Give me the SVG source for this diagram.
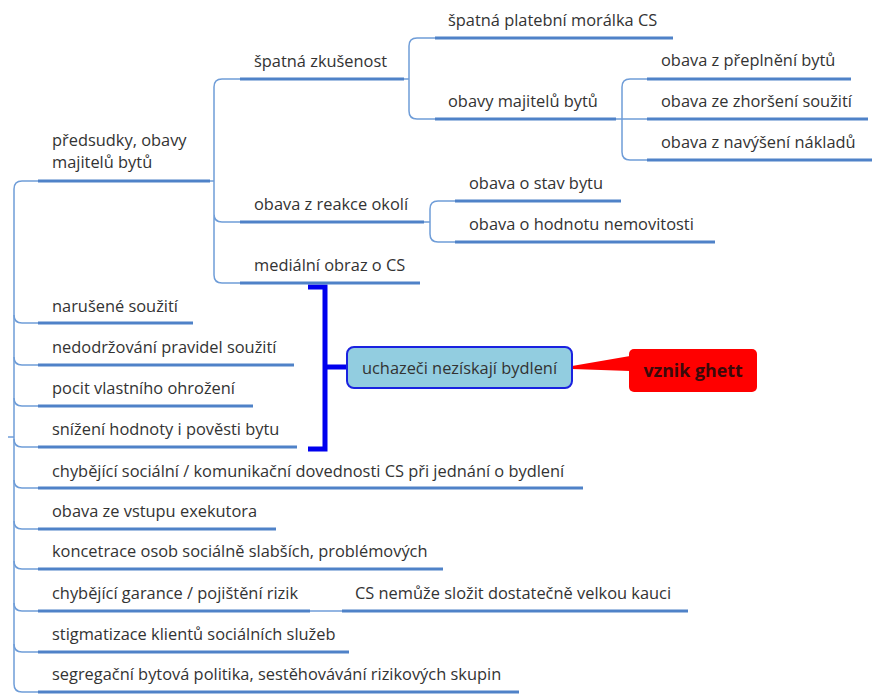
<svg xmlns="http://www.w3.org/2000/svg" width="877" height="700" viewBox="0 0 877 700">
<style>
text{font-family:"Open Sans","Noto Sans","DejaVu Sans",sans-serif;font-size:16.4px;fill:#333}
.u{stroke:#4f82c8;stroke-width:3;fill:none}
.c{stroke:#6f9dd8;stroke-width:1.5;fill:none}
.br{stroke:#0000ee;stroke-width:5;fill:none}
</style>
<rect width="877" height="700" fill="#fff"/>
<g id="connectors">
<path class="c" d="M22,181 Q14,181 14,189 L14,684 Q14,692 22,692 L38,692"/>
<path class="c" d="M8,437 L14,437"/>
<path class="c" d="M14,315 Q14,323 22,323 L38,323 M14,357 Q14,365 22,365 L38,365 M14,398 Q14,406 22,406 L38,406 M14,439 Q14,447 22,447 L38,447 M14,480 Q14,488 22,488 L38,488 M14,521 Q14,529 22,529 L38,529 M14,561 Q14,569 22,569 L38,569 M14,603 Q14,611 22,611 L38,611 M14,644 Q14,652 22,652 L38,652 M22,181 L38,181"/>
<path class="c" d="M210,181 L214,181 M240,79 L222,79 Q214,79 214,87 L214,275 Q214,283 222,283 L240,283 M214,214 Q214,222 222,222 L240,222"/>
<path class="c" d="M404,79 L409,79 M435,38 L417,38 Q409,38 409,46 L409,111 Q409,119 417,119 L435,119"/>
<path class="c" d="M616,119 L622,119 M647,79 L630,79 Q622,79 622,87 L622,152 Q622,160 630,160 L647,160 M622,119 L647,119"/>
<path class="c" d="M424,222 L430,222 M455,201 L438,201 Q430,201 430,209 L430,234 Q430,242 438,242 L455,242"/>
<path class="c" d="M310,611 L342,611"/>
<path class="br" d="M308,287 L325,287 L325,449 L308,449 M325,367 L347,367"/>
<path d="M572,366 L630,356 L630,371 L572,369 Z" fill="#ff0000"/>
</g>
<g id="n-predsudky"><text x="52" y="146">předsudky, obavy</text><text x="52" y="168">majitelů bytů</text><path class="u" d="M38,181 L210,181"/></g>
<g id="n-spatna-zkusenost"><text x="254" y="67">špatná zkušenost</text><path class="u" d="M240,79 L404,79"/></g>
<g id="n-platebni"><text x="448" y="26">špatná platební morálka CS</text><path class="u" d="M435,38 L673,38"/></g>
<g id="n-obavy-majitelu"><text x="448" y="107">obavy majitelů bytů</text><path class="u" d="M435,119 L616,119"/></g>
<g id="n-preplneni"><text x="661" y="66">obava z přeplnění bytů</text><path class="u" d="M647,79 L851,79"/></g>
<g id="n-zhorseni"><text x="661" y="107">obava ze zhoršení soužití</text><path class="u" d="M647,119 L868,119"/></g>
<g id="n-navyseni"><text x="661" y="148">obava z navýšení nákladů</text><path class="u" d="M647,160 L872,160"/></g>
<g id="n-reakce"><text x="254" y="210">obava z reakce okolí</text><path class="u" d="M240,222 L424,222"/></g>
<g id="n-stav"><text x="469" y="189">obava o stav bytu</text><path class="u" d="M455,201 L621,201"/></g>
<g id="n-hodnotu"><text x="469" y="230">obava o hodnotu nemovitosti</text><path class="u" d="M455,242 L715,242"/></g>
<g id="n-medialni"><text x="254" y="271">mediální obraz o CS</text><path class="u" d="M240,283 L420,283"/></g>
<g id="n-naruseni"><text x="52" y="312">narušené soužití</text><path class="u" d="M38,323 L193,323"/></g>
<g id="n-nedodrzovani"><text x="52" y="353">nedodržování pravidel soužití</text><path class="u" d="M38,365 L294,365"/></g>
<g id="n-pocit"><text x="52" y="394">pocit vlastního ohrožení</text><path class="u" d="M38,406 L253,406"/></g>
<g id="n-snizeni"><text x="52" y="435">snížení hodnoty i pověsti bytu</text><path class="u" d="M38,447 L297,447"/></g>
<g id="n-chybejici-soc"><text x="52" y="477">chybějící sociální / komunikační dovednosti CS při jednání o bydlení</text><path class="u" d="M38,488 L583,488"/></g>
<g id="n-exekutor"><text x="52" y="517">obava ze vstupu exekutora</text><path class="u" d="M38,529 L276,529"/></g>
<g id="n-koncetrace"><text x="52" y="557">koncetrace osob sociálně slabších, problémových</text><path class="u" d="M38,569 L443,569"/></g>
<g id="n-garance"><text x="52" y="599">chybějící garance / pojištění rizik</text><path class="u" d="M38,611 L310,611"/></g>
<g id="n-kauce"><text x="355" y="599">CS nemůže složit dostatečně velkou kauci</text><path class="u" d="M342,611 L688,611"/></g>
<g id="n-stigmatizace"><text x="52" y="640">stigmatizace klientů sociálních služeb</text><path class="u" d="M38,652 L349,652"/></g>
<g id="n-segregace"><text x="52" y="680">segregační bytová politika, sestěhovávání rizikových skupin</text><path class="u" d="M38,692 L519,692"/></g>
<g id="n-uchazeci"><rect x="347" y="347" width="225" height="41" rx="7" fill="#92cde0" stroke="#1a22e0" stroke-width="2"/><text x="459.5" y="374" text-anchor="middle">uchazeči nezískají bydlení</text></g>
<g id="n-ghett"><rect x="629" y="349" width="128" height="43" rx="5" fill="#ff0000"/><text x="693" y="377" text-anchor="middle" style="font-weight:bold;font-size:17.8px;fill:#3a0a0a">vznik ghett</text></g>
</svg>
